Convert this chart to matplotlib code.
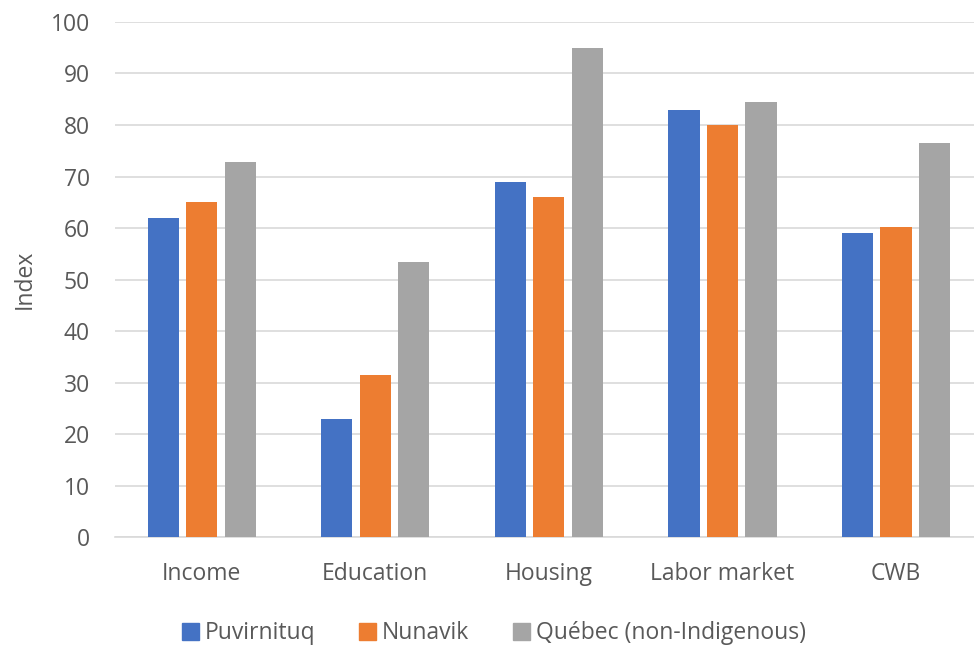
import numpy as np
import matplotlib.pyplot as plt
from matplotlib.patches import Patch

categories = ["Income", "Education", "Housing", "Labor market", "CWB"]
puvirnituq = [62, 23, 69, 83, 59]
nunavik = [65, 31.5, 66, 80, 60.3]
quebec = [72.8, 53.5, 95, 84.5, 76.5]
series_names = ["Puvirnituq", "Nunavik", "Québec (non-Indigenous)"]
colors = ["#4472c4", "#ed7d31", "#a5a5a5"]

plt.rcParams["font.family"] = ["Open Sans", "DejaVu Sans"]
text_color = "#595959"

fig = plt.figure(figsize=(9.74, 6.45), dpi=100)
ax = fig.add_axes([0.118, 0.167, 0.891, 0.799])

x = np.arange(len(categories))
width = 0.18
step = 0.222
for i, (vals, c) in enumerate(zip([puvirnituq, nunavik, quebec], colors)):
    ax.bar(x + (i - 1) * step, vals, width, color=c, zorder=3)

ax.set_xlim(-0.5, 4.5)
ax.set_ylim(0, 100)
ax.set_yticks(range(0, 101, 10))
ax.set_xticks(x)
ax.set_xticklabels(categories)
ax.yaxis.grid(True, color="#d9d9d9", linewidth=1.2, zorder=0)
for s in ["top", "right", "left"]:
    ax.spines[s].set_visible(False)
ax.spines["bottom"].set_color("#d9d9d9")
ax.spines["bottom"].set_linewidth(1.2)
ax.tick_params(axis="both", length=0, labelsize=16.5, colors=text_color)
ax.tick_params(axis="y", pad=18)
ax.tick_params(axis="x", pad=18)
ax.set_ylabel("Index", fontsize=16.5, color=text_color, labelpad=10)

handles = [Patch(color=c, label=n) for c, n in zip(colors, series_names)]
fig.legend(handles=handles, loc="center", bbox_to_anchor=(0.507, 0.018),
           ncol=3, frameon=False, fontsize=16.5, labelcolor=text_color,
           handlelength=0.75, handleheight=0.75, handletextpad=0.25, columnspacing=1.9)

fig.savefig("out.png", dpi=100)
